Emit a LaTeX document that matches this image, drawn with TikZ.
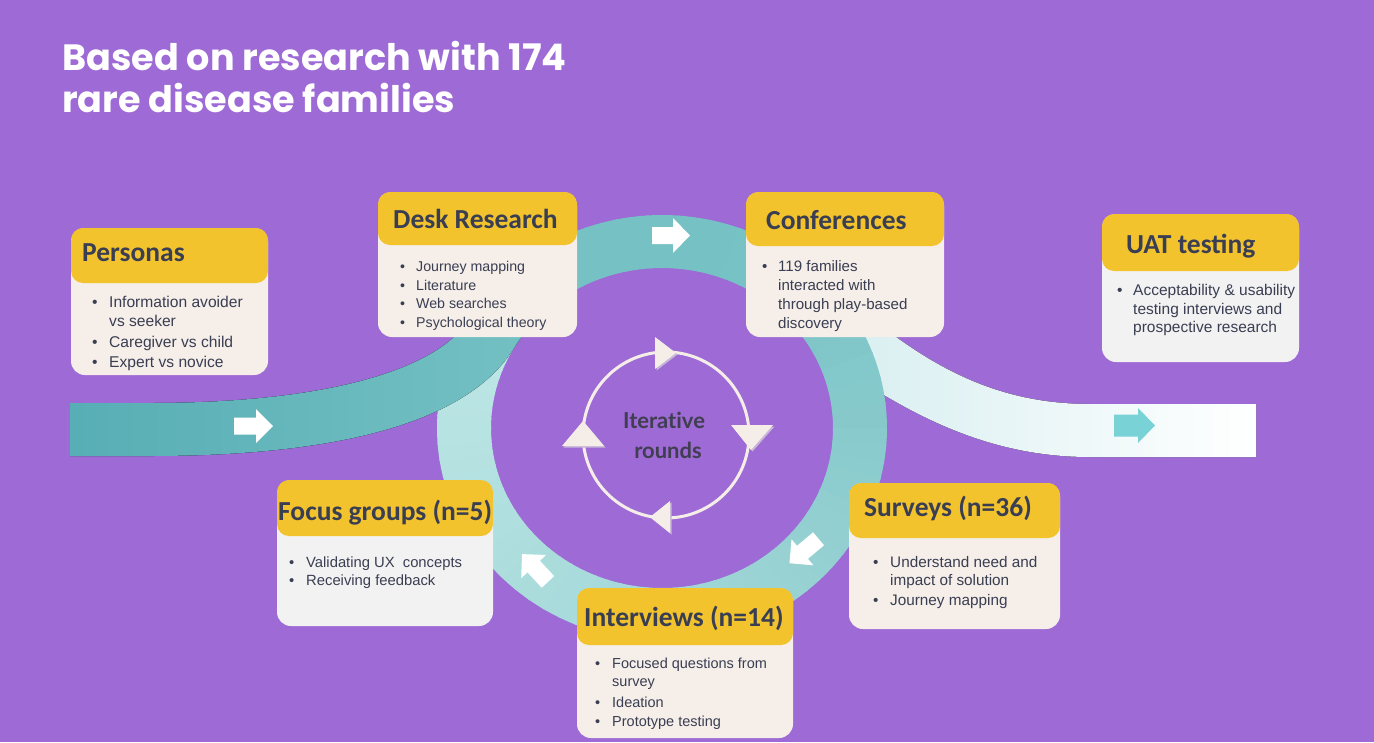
\documentclass[tikz,border=0pt]{standalone}
\usepackage{fontspec}
\newfontfamily\hdfont{Carlito}
\newfontfamily\bdfont{Liberation Sans}
\newfontfamily\tlfont{Poppins}
\newfontfamily\itfont{Lato}[Ligatures={NoCommon}]
\definecolor{bg}{RGB}{157,106,214}
\definecolor{hdr}{RGB}{242,195,45}
\definecolor{cream}{RGB}{245,238,233}
\definecolor{grayb}{RGB}{242,242,242}
\definecolor{ink}{RGB}{58,62,82}
\definecolor{ink2}{RGB}{64,62,80}
\definecolor{tri}{RGB}{245,238,232}
\definecolor{trish}{RGB}{200,182,214}
\definecolor{bandL}{RGB}{87,174,180}
\definecolor{rA}{RGB}{117,193,196}
\definecolor{rB}{RGB}{136,202,204}
\definecolor{rC}{RGB}{150,209,210}
\definecolor{rD}{RGB}{163,216,217}
\definecolor{rE}{RGB}{172,221,221}
\definecolor{rF}{RGB}{184,227,227}
\definecolor{rG}{RGB}{190,230,230}
\definecolor{exitL}{RGB}{215,238,240}
\definecolor{exitA}{RGB}{120,210,214}
\newcommand\arrowshape[3]{(-#1,-#2) -- (#1-17,-#2) -- (#1-17,-#3) -- (#1,0) -- (#1-17,#3) -- (#1-17,#2) -- (-#1,#2) -- cycle}
\newcommand\boxbody[4]{%
  \foreach \n/\yy/\bb/\tx in {#4}{%
    \ifnum\bb=1 \node[bd=#3] (\n-b) at (#1,\yy) {•};\fi
    \node[bd=#3] (\n) at (#2,\yy) {\tx};
  }}
\begin{document}
\begin{tikzpicture}[x=1pt,y=-1pt,
  hd/.style={font=\hdfont\bfseries\fontsize{27.5}{27.5}\selectfont, text=ink, anchor=base west, inner sep=0pt},
  bd/.style={font=\bdfont\fontsize{#1}{#1}\selectfont, text=ink, anchor=base west, inner sep=0pt},
  hbox/.style={fill=hdr, rounded corners=12pt},
  cbox/.style={fill=cream, rounded corners=14pt},
  gbox/.style={fill=grayb, rounded corners=14pt},
  tl/.style={font=\tlfont\bfseries\fontsize{36.6}{36.6}\selectfont, text=white, anchor=base west, inner sep=0pt},
  it/.style={font=\itfont\bfseries\fontsize{22}{22}\selectfont, text=ink2, anchor=base, inner sep=0pt}]
\fill[bg] (0,0) rectangle (1374,742);
\useasboundingbox (0,0) rectangle (1374,742);

% exit band (behind ring)
\fill[left color=exitL, right color=white] (850,300) .. controls (930,370) and (1000,404) .. (1090,404) -- (1256,404) -- (1256,457) -- (1090,457) .. controls (985,457) and (905,412) .. (830,360) -- cycle;

% ring
\foreach \aa/\ab/\ca/\cb in {210/290/rA/rA, 290/360/rA/rB, 360/405/rB/rC, 405/450/rC/rD, 450/495/rD/rE, 495/540/rE/rF, 540/570/rF/rG}{
  \foreach \k in {0,...,9}{
    \pgfmathsetmacro\segS{\aa+(\ab-\aa)*\k/10}
    \pgfmathsetmacro\segE{\aa+(\ab-\aa)*(\k+1)/10+0.6}
    \pgfmathtruncatemacro\segP{95-10*\k}
    \fill[\ca!\segP!\cb] plot[domain=\segS:\segE, samples=5] ({662+225*cos(\x)},{428+213*sin(\x)}) -- plot[domain=\segE:\segS, samples=5] ({662+171*cos(\x)},{428+160*sin(\x)}) -- cycle;
  }
}

% incoming band (extends a little along the ring to hide the seam)
\fill[left color=bandL, right color=rA] (70,403) -- (150,403) .. controls (340,403) and (440,365) .. (467.1,321.5) -- plot[domain=210:228, samples=6] ({662+225*cos(\x)},{428+213*sin(\x)}) -- plot[domain=228:210, samples=6] ({662+171*cos(\x)},{428+160*sin(\x)}) .. controls (467,425) and (330,456) .. (150,456) -- (70,456) -- cycle;

% block arrows
\fill[white, shift={(253.5,426)}] \arrowshape{19.5}{8.5}{17};
\fill[white, shift={(671,235.5)}] \arrowshape{19}{8.5}{17.5};
\fill[exitA, shift={(1134.5,425.5)}] \arrowshape{20.5}{11}{17.5};
\fill[white, shift={(804,551)}, rotate=220] \arrowshape{19}{8.5}{17};
\fill[white, shift={(535,568)}, rotate=133] \arrowshape{19}{8.5}{17};

% iterative circle
\draw[tri, line width=3pt] (666,435) circle[radius=83pt];
\fill[trish] (656.5,338.5) -- (656.5,370.5) -- (677.5,354.5) -- cycle;
\fill[tri] (655,337) -- (655,369) -- (676,353) -- cycle;
\fill[trish] (732.5,426.5) -- (774.5,426.5) -- (752.5,451.5) -- cycle;
\fill[tri] (731,425) -- (773,425) -- (751,450) -- cycle;
\fill[trish] (671.5,502.5) -- (671.5,534.5) -- (651.5,518.5) -- cycle;
\fill[tri] (670,501) -- (670,533) -- (650,517) -- cycle;
\fill[trish] (563.5,447.5) -- (605.5,447.5) -- (584.5,422.5) -- cycle;
\fill[tri] (562,446) -- (604,446) -- (583,421) -- cycle;
\node[it] (it1) at (664,428) {Iterative};
\node[it] (it2) at (668,458) {rounds};

% title
\node[tl] (t1) at (62,70) {Based on research with 174};
\node[tl] (t2) at (62,112) {rare disease families};

% boxes
\fill[cbox] (71,228) rectangle (268,375);
\fill[hbox] (71,228) rectangle (268,283);
\fill[cbox] (378,192) rectangle (577,337);
\fill[hbox] (378,192) rectangle (577,245);
\fill[cbox] (746,192) rectangle (944,337);
\fill[hbox] (746,192) rectangle (944,246);
\fill[gbox] (1102,214) rectangle (1299,362);
\fill[hbox] (1102,214) rectangle (1299,271);
\fill[gbox] (277,480) rectangle (493,626);
\fill[hbox] (277,480) rectangle (493,536);
\fill[cbox] (577,588) rectangle (793,738);
\fill[hbox] (577,588) rectangle (793,645);
\fill[cbox] (849,483) rectangle (1060,629);
\fill[hbox] (849,483) rectangle (1060,538);

\node[hd] (h1) at (82,261) {Personas};
\node[hd] (h2) at (393,228) {Desk Research};
\node[hd] (h3) at (766,229) {Conferences};
\node[hd] (h4) at (1126,253) {UAT testing};
\node[hd] (h5) at (278,520) {Focus groups (n=5)};
\node[hd] (h6) at (584,626) {Interviews (n=14)};
\node[hd] (h7) at (864,516) {Surveys (n=36)};

\boxbody{92}{109}{15.6}{pa/307/1/Information avoider, pb/326/0/vs seeker, pc/347/1/Caregiver vs child, pd/367/1/Expert vs novice}
\boxbody{400}{416}{14.2}{da/271/1/Journey mapping, db/290/1/Literature, dc/308/1/Web searches, dd/327/1/Psychological theory}
\boxbody{762}{778}{15.1}{ca/271/1/119 families, cb/290/0/interacted with, cc/309/0/through play-based, cd/328/0/discovery}
\boxbody{1117}{1133}{15.5}{ua/295/1/Acceptability \& usability, ub/314/0/testing interviews and, uc/332/0/prospective research}
\boxbody{289}{306}{14.8}{fa/567/1/Validating UX\hspace{4pt} concepts, fb/585/1/Receiving feedback}
\boxbody{595}{612}{14.5}{ia/668/1/Focused questions from, ib/686/0/survey, ic/707/1/Ideation, id/726/1/Prototype testing}
\boxbody{873}{890}{15.3}{sa/567/1/Understand need and, sb/585/0/impact of solution, sc/605/1/Journey mapping}
\end{tikzpicture}
\end{document}
